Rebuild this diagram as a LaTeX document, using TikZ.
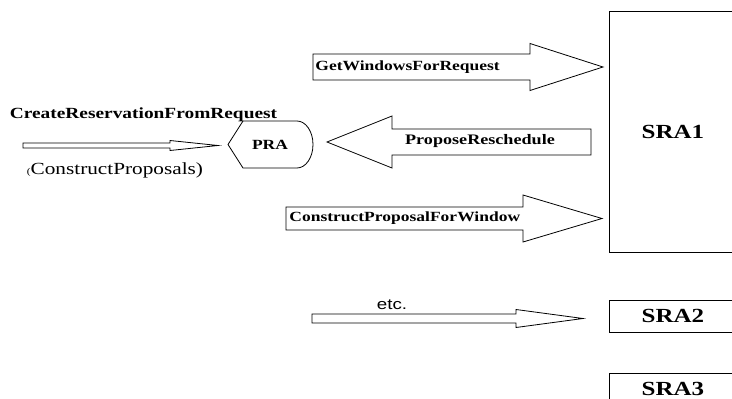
\documentclass[tikz,border=0pt]{standalone}
\usepackage{fontspec}
\setmainfont{Liberation Serif}[FakeStretch=1.25]
\newfontfamily\etcfont{Liberation Sans}[FakeStretch=1.25]
\usetikzlibrary{calc}

% block arrow between two named points: tail, tip, shaft half, head half, head length
\newcommand{\fatarrow}[5]{%
  \draw[blockarrow] let \p1=(#1), \p2=(#2), \n1={sign(\x2-\x1)} in
    (\x1,\y1+#3) -- (\x2-\n1*#5,\y1+#3) -- (\x2-\n1*#5,\y1+#4) -- (\x2,\y2)
    -- (\x2-\n1*#5,\y1-#4) -- (\x2-\n1*#5,\y1-#3) -- (\x1,\y1-#3) -- cycle;}

\begin{document}
\begin{tikzpicture}[x=1pt, y=-1pt, line width=0.8pt,
    blockarrow/.style={draw},
    srabox/.style={draw, minimum width=128pt, inner sep=0pt,
                   font=\fontsize{20}{24}\selectfont\bfseries},
    msg/.style={inner sep=1pt, font=\fontsize{14}{16}\selectfont\bfseries}]
    \useasboundingbox (0,0) rectangle (732,399);
    \clip (0,0) rectangle (732,399);

    % Agents
    \node[srabox, minimum height=241pt] (sra1) at (673,132) {SRA1};
    \node[srabox, minimum height=32pt] (sra2) at (673,316) {SRA2};
    \node[srabox, minimum height=32pt] (sra3) at (673,389) {SRA3};
    \node[msg] (pra) at (270,144.5) {PRA};
    \draw[shift={(pra.center)}] (-42,0) -- (-27,-23.5) -- (27,-23.5)
        arc[start angle=90, end angle=-90, x radius=16pt, y radius=23.5pt]
        -- (-27,23.5) -- cycle;

    % Arrow ends
    \coordinate (cr-tail) at (23,145.5);
    \coordinate (cr-tip) at (218,145.5);
    \coordinate (gw-tail) at (313,67);
    \coordinate (gw-tip) at (603,67);
    \coordinate (pr-tail) at (591,142);
    \coordinate (pr-tip) at (327,142);
    \coordinate (cp-tail) at (286,218.5);
    \coordinate (cp-tip) at (602,218.5);
    \coordinate (etc-tail) at (312,318.5);
    \coordinate (etc-tip) at (583,318.5);

    % Request into PRA
    \fatarrow{cr-tail}{cr-tip}{2.5pt}{5pt}{48pt}
    \node[msg, font=\fontsize{15.5}{18}\selectfont\bfseries] (cr) at (143.5,115)
        {CreateReservationFromRequest};
    \node[font=\fontsize{17}{20}\selectfont] (cps) at (115,170)
        {{\fontsize{9}{10}\selectfont(}ConstructProposals)};

    % Messages between PRA and SRA1
    \fatarrow{gw-tail}{gw-tip}{13pt}{23.5pt}{73pt}
    \node[msg, anchor=west] (gw) at (314,67) {GetWindowsForRequest};
    \fatarrow{pr-tail}{pr-tip}{13pt}{26pt}{65pt}
    \node[msg, font=\fontsize{14.5}{17}\selectfont\bfseries] (pr) at (480,141)
        {ProposeReschedule};
    \fatarrow{cp-tail}{cp-tip}{11.5pt}{23.5pt}{79pt}
    \node[msg, anchor=west] (cp) at (288,218) {ConstructProposalForWindow};

    % Further agents
    \fatarrow{etc-tail}{etc-tip}{4.5pt}{9pt}{67pt}
    \node[font=\etcfont\fontsize{15}{17}\selectfont] (etc) at (392,305) {etc.};
\end{tikzpicture}
\end{document}
